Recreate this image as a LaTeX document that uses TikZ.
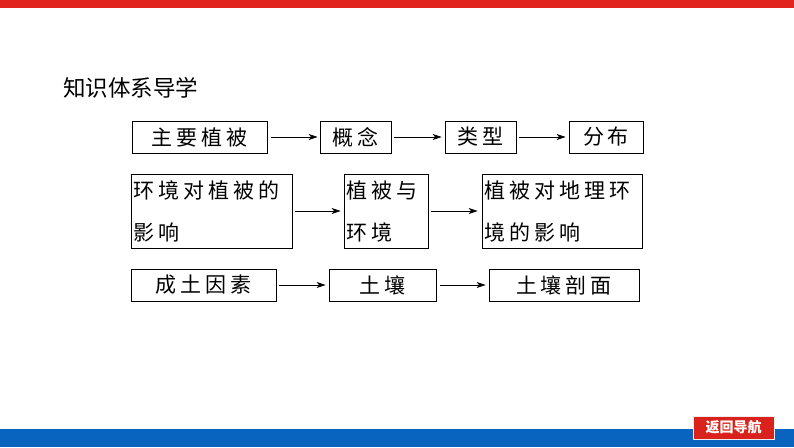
\documentclass[tikz,border=0pt]{standalone}
\usepackage{fontspec}
\usetikzlibrary{arrows.meta}
\newfontfamily\cjk{Noto Sans CJK SC}
\newfontfamily\cjksp[LetterSpace=19]{Noto Sans CJK SC}
\definecolor{topred}{RGB}{225,36,30}
\definecolor{botblue}{RGB}{8,100,190}
\definecolor{btnred}{RGB}{218,34,28}
\tikzset{
  box/.style={draw=black, line width=0.8pt, inner sep=0pt, font=\cjksp\fontsize{21}{42}\selectfont},
  tbox/.style={box, align=left},
  arr/.style={draw=black, line width=0.7pt, -{Stealth[length=9pt,width=6pt,inset=2.5pt]}},
}
\begin{document}
\begin{tikzpicture}[x=1pt,y=-1pt]
\useasboundingbox (0,0) rectangle (794,447);
\fill[white] (0,0) rectangle (794,447);
\fill[topred] (0,0) rectangle (794,8);
\fill[botblue] (0,429) rectangle (794,447);
\node[fill=btnred, draw=white!85!gray, line width=0.8pt, minimum width=81pt, minimum height=23pt, inner sep=0pt, text=white, font=\cjk\bfseries\fontsize{14}{16}\selectfont] (nav) at (733.5,427.5) {返回导航};
\node[anchor=west, inner sep=0pt, font=\cjk\fontsize{22.5}{26}\selectfont] (title) at (63,88) {知识体系导学};
% row 1
\node[box, minimum width=135pt, minimum height=32pt] (a1) at (199.5,137) {主要植被};
\node[box, minimum width=71pt, minimum height=32pt] (a2) at (355.5,137) {概念};
\node[box, minimum width=71pt, minimum height=32pt] (a3) at (480.5,137) {类型};
\node[box, minimum width=74pt, minimum height=32pt] (a4) at (606,137) {分布};
\draw[arr] ([xshift=4pt]a1.east) -- ([xshift=-2pt]a2.west);
\draw[arr] ([xshift=3pt]a2.east) -- ([xshift=-3pt]a3.west);
\draw[arr] ([xshift=3pt]a3.east) -- ([xshift=-3pt]a4.west);
% row 2
\node[tbox, minimum width=161pt, minimum height=74pt, text width=156pt] (b1) at (211.5,211) {环境对植被的\\影响};
\node[tbox, minimum width=84pt, minimum height=74pt, text width=79pt] (b2) at (386,211) {植被与\\环境};
\node[tbox, minimum width=160pt, minimum height=74pt, text width=155pt] (b3) at (562,211) {植被对地理环\\境的影响};
\draw[arr] ([xshift=3pt]b1.east) -- ([xshift=-3pt]b2.west);
\draw[arr] ([xshift=3pt]b2.east) -- ([xshift=-4pt]b3.west);
% row 3
\node[box, minimum width=145pt, minimum height=32pt] (c1) at (203.5,285) {成土因素};
\node[box, minimum width=107pt, minimum height=32pt] (c2) at (382.5,285) {土壤};
\node[box, minimum width=150pt, minimum height=32pt] (c3) at (564,285) {土壤剖面};
\draw[arr] ([xshift=3pt]c1.east) -- ([xshift=-3pt]c2.west);
\draw[arr] ([xshift=4pt]c2.east) -- ([xshift=-3pt]c3.west);
\end{tikzpicture}
\end{document}
